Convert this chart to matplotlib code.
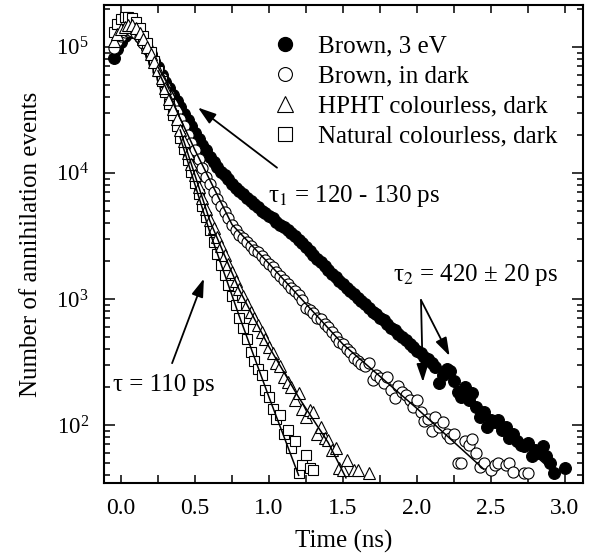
import numpy as np
import matplotlib
matplotlib.use("Agg")
import matplotlib.pyplot as plt
from matplotlib.lines import Line2D
from matplotlib.ticker import LogLocator, MultipleLocator, LogFormatterMathtext, NullFormatter

plt.rcParams['font.family'] = ['Liberation Serif', 'DejaVu Serif']
plt.rcParams['mathtext.fontset'] = 'stix'

# time channels (ns)
time_ns = [-0.05, -0.025, 0.0, 0.025, 0.05, 0.075, 0.1, 0.125, 0.15, 0.175,
           0.2, 0.225, 0.25, 0.275, 0.3, 0.325, 0.35, 0.375, 0.4, 0.425,
           0.45, 0.475, 0.5, 0.525, 0.55, 0.575, 0.6, 0.625, 0.65, 0.675,
           0.7, 0.725, 0.75, 0.775, 0.8, 0.825, 0.85, 0.875, 0.9, 0.925,
           0.95, 0.975, 1.0, 1.025, 1.05, 1.075, 1.1, 1.125, 1.15, 1.175,
           1.2, 1.225, 1.25, 1.275, 1.3, 1.325, 1.35, 1.375, 1.4, 1.425,
           1.45, 1.475, 1.5, 1.525, 1.55, 1.575, 1.6, 1.625, 1.65, 1.675,
           1.7, 1.725, 1.75, 1.775, 1.8, 1.825, 1.85, 1.875, 1.9, 1.925,
           1.95, 1.975, 2.0, 2.025, 2.05, 2.075, 2.1, 2.125, 2.15, 2.175,
           2.2, 2.225, 2.25, 2.275, 2.3, 2.325, 2.35, 2.375, 2.4, 2.425,
           2.45, 2.475, 2.5, 2.525, 2.55, 2.575, 2.6, 2.625, 2.65, 2.675,
           2.7, 2.725, 2.75, 2.775, 2.8, 2.825, 2.85, 2.875, 2.9, 2.925,
           2.95, 2.975, 3.0]

nan = np.nan
# log10 of counts
brown_3ev_log = [4.91, 4.98, 5.04, 5.09, 5.11, 5.12, 5.11, 5.08, 5.04, 4.99,
                 4.94, 4.89, 4.84, 4.78, 4.72, 4.67, 4.62, 4.57, 4.52, 4.47,
                 4.42, 4.37, 4.32, 4.27, 4.22, 4.18, 4.13, 4.09, 4.05, 4.01,
                 3.98, 3.95, 3.91, 3.88, 3.86, 3.83, 3.80, 3.78, 3.75, 3.73,
                 3.70, 3.68, 3.66, 3.64, 3.61, 3.59, 3.57, 3.55, 3.52, 3.50,
                 3.47, 3.44, 3.41, 3.38, 3.35, 3.32, 3.29, 3.26, 3.23, 3.20,
                 3.17, 3.14, 3.12, 3.09, 3.06, 3.04, 3.01, 2.98, 2.96, 2.93,
                 2.90, 2.88, 2.85, 2.83, 2.80, 2.77, 2.75, 2.72, 2.70, 2.67,
                 2.64, 2.62, 2.59, 2.57, 2.54, 2.52, 2.49, 2.46, 2.33, 2.40,
                 2.44, 2.43, 2.35, 2.26, 2.22, 2.30, 2.20, 2.25, 2.14, 2.06,
                 2.10, 1.98, 2.04, 2.02, 2.04, 1.96, 1.98, 1.90, 1.93, 1.87,
                 1.84, 1.83, 1.86, 1.75, 1.80, 1.78, 1.83, 1.75, 1.70, 1.62,
                 nan, nan, 1.66]

brown_dark_log = [4.99, 5.05, 5.09, 5.12, 5.13, 5.13, 5.11, 5.08, 5.03, 4.98,
                  4.93, 4.87, 4.81, 4.75, 4.68, 4.62, 4.55, 4.49, 4.43, 4.37,
                  4.30, 4.24, 4.18, 4.11, 4.04, 3.97, 3.91, 3.85, 3.79, 3.74,
                  3.69, 3.64, 3.59, 3.55, 3.51, 3.48, 3.45, 3.42, 3.39, 3.37,
                  3.34, 3.31, 3.28, 3.25, 3.21, 3.18, 3.15, 3.12, 3.09, 3.06,
                  3.03, 2.99, 2.93, 2.91, 2.89, 2.85, 2.84, 2.80, 2.78, 2.74,
                  2.70, 2.66, 2.64, 2.60, 2.58, 2.53, 2.51, 2.48, 2.47, 2.49,
                  2.36, 2.40, 2.37, 2.33, 2.38, 2.28, 2.21, 2.31, 2.26, 2.24,
                  2.20, 2.14, 2.20, 2.10, 2.03, 2.05, 1.95, 2.06, 1.98, 2.02,
                  1.93, 1.90, 1.93, 1.70, 1.70, 1.87, 1.84, 1.89, 1.78, 1.67,
                  1.70, nan, 1.64, 1.68, 1.70, nan, 1.68, 1.70, 1.63, nan,
                  nan, 1.62, 1.62]

hpht_log = [5.05, 5.10, 5.14, 5.16, 5.17, 5.17, 5.15, 5.11, 5.06, 5.00,
            4.94, 4.88, 4.82, 4.75, 4.67, 4.59, 4.51, 4.43, 4.34, 4.25,
            4.16, 4.07, 3.98, 3.89, 3.80, 3.71, 3.63, 3.56, 3.49, 3.42,
            3.35, 3.28, 3.21, 3.14, 3.08, 3.02, 2.96, 2.90, 2.85, 2.79,
            2.74, 2.68, 2.62, 2.57, 2.49, 2.47, 2.38, 2.34, 2.30, 2.20,
            2.25, 2.13, 2.06, 2.12, 2.10, 1.93, 1.98, 1.90, 1.88, 1.80,
            1.82, 1.66, 1.64, 1.72, nan, 1.64, 1.64, nan, nan, 1.62]

natural_log = [5.12, 5.18, 5.22, 5.24, 5.24, 5.23, 5.20, 5.15, 5.09, 5.03,
               4.96, 4.89, 4.81, 4.73, 4.64, 4.55, 4.46, 4.37, 4.28, 4.19,
               4.10, 4.01, 3.92, 3.83, 3.74, 3.65, 3.55, 3.45, 3.36, 3.27,
               3.19, 3.11, 3.02, 2.95, 2.85, 2.77, 2.68, 2.58, 2.51, 2.44,
               2.40, 2.28, 2.22, 2.13, 2.05, 2.08, 1.93, 1.96, 1.82, 1.87,
               1.62, 1.68, 1.76, 1.66, 1.64]

# fitted curves (log10 counts)
fit_3ev_t = [0.25, 0.5, 0.75, 1.0, 1.5, 2.0, 2.5, 2.95]
fit_3ev_log = [4.84, 4.32, 3.91, 3.66, 3.12, 2.59, 2.07, 1.60]
fit_dark_t = [0.25, 0.5, 0.75, 1.0, 1.5, 2.0, 2.45]
fit_dark_log = [4.81, 4.18, 3.59, 3.28, 2.64, 2.13, 1.65]
fit_hpht_t = [0.4, 0.6, 0.8, 1.0, 1.2, 1.4, 1.52]
fit_hpht_log = [4.34, 3.62, 3.07, 2.62, 2.22, 1.86, 1.58]
fit_nat_t = [0.4, 0.6, 0.8, 1.0, 1.2]
fit_nat_log = [4.28, 3.53, 2.86, 2.22, 1.60]

labels = ['Brown, 3 eV', 'Brown, in dark', 'HPHT colourless, dark', 'Natural colourless, dark']

fig = plt.figure(figsize=(5.91, 5.55), dpi=100)
ax = fig.add_axes([0.176, 0.13, 0.8105, 0.861])

t = np.array(time_ns)
def cts(v):
    return 10 ** np.array(v)

ax.plot(t[:len(brown_3ev_log)], cts(brown_3ev_log), 'o', ms=8.5, mfc='k', mec='k', mew=0.8, zorder=2)
ax.plot(t[:len(brown_dark_log)], cts(brown_dark_log), 'o', ms=8, mfc='white', mec='k', mew=0.8, zorder=3)
ax.plot(t[:len(natural_log)], cts(natural_log), 's', ms=7.5, mfc='white', mec='k', mew=0.8, zorder=4)
ax.plot(t[:len(hpht_log)], cts(hpht_log), '^', ms=9, mfc='white', mec='k', mew=0.8, zorder=5)

for ft, fl in [(fit_3ev_t, fit_3ev_log), (fit_dark_t, fit_dark_log),
               (fit_hpht_t, fit_hpht_log), (fit_nat_t, fit_nat_log)]:
    ax.plot(ft, cts(fl), '-', color='k', lw=1.1, zorder=6)

ax.set_yscale('log')
ax.set_xlim(-0.115, 3.122)
ax.set_ylim(34.7, 2.15e5)

ax.xaxis.set_major_locator(MultipleLocator(0.5))
ax.xaxis.set_minor_locator(MultipleLocator(0.25))
ax.set_xticks([0.0, 0.5, 1.0, 1.5, 2.0, 2.5, 3.0])
ax.set_xticklabels(['0.0', '0.5', '1.0', '1.5', '2.0', '2.5', '3.0'])
ax.yaxis.set_major_locator(LogLocator(base=10))
ax.yaxis.set_minor_locator(LogLocator(base=10, subs=np.arange(2, 10)))
ax.yaxis.set_major_formatter(LogFormatterMathtext())
ax.yaxis.set_minor_formatter(NullFormatter())

ax.tick_params(which='both', direction='in', top=True, right=True, width=1.1)
ax.tick_params(axis='x', which='both', length=6, pad=11, labelsize=17)
ax.tick_params(axis='y', which='major', length=8, pad=11, labelsize=16.5)
ax.tick_params(axis='y', which='minor', length=4.5)
for s in ax.spines.values():
    s.set_linewidth(1.5)

ax.set_xlabel('Time (ns)', fontsize=18, labelpad=8)
ax.set_ylabel('Number of annihilation events', fontsize=18, labelpad=10)

# legend
handles = [Line2D([], [], ls='none', marker='o', ms=10, mfc='k', mec='k'),
           Line2D([], [], ls='none', marker='o', ms=10, mfc='white', mec='k', mew=0.8),
           Line2D([], [], ls='none', marker='^', ms=11, mfc='white', mec='k', mew=0.8),
           Line2D([], [], ls='none', marker='s', ms=9.5, mfc='white', mec='k', mew=0.8)]
ax.legend(handles, labels, loc='upper left', bbox_to_anchor=(0.352, 0.937), frameon=False,
          fontsize=18, handlelength=1.0, handletextpad=0.82, labelspacing=0.30,
          borderpad=0, borderaxespad=0)

# annotations
arrow = dict(arrowstyle='-|>,head_length=0.55,head_width=0.18', color='k', lw=1.3,
             mutation_scale=20, shrinkA=0, shrinkB=0)
ax.annotate('', xy=(0.52, 3.3e4), xytext=(1.054, 1.1e4), arrowprops=arrow)
ax.text(0.99, 6600, r'τ$_1$ = 120 - 130 ps', fontsize=18, va='center', ha='left')

ax.annotate('', xy=(2.04, 219), xytext=(2.027, 980), arrowprops=arrow)
ax.annotate('', xy=(2.22, 353), xytext=(2.027, 980), arrowprops=arrow)
ax.text(1.84, 1550, r'τ$_2$ = 420 ± 20 ps', fontsize=18, va='center', ha='left')

ax.annotate('', xy=(0.56, 1450), xytext=(0.345, 309), arrowprops=arrow)
ax.text(-0.054, 207, 'τ = 110 ps', fontsize=18, va='center', ha='left')

fig.savefig('out.png', dpi=100)
